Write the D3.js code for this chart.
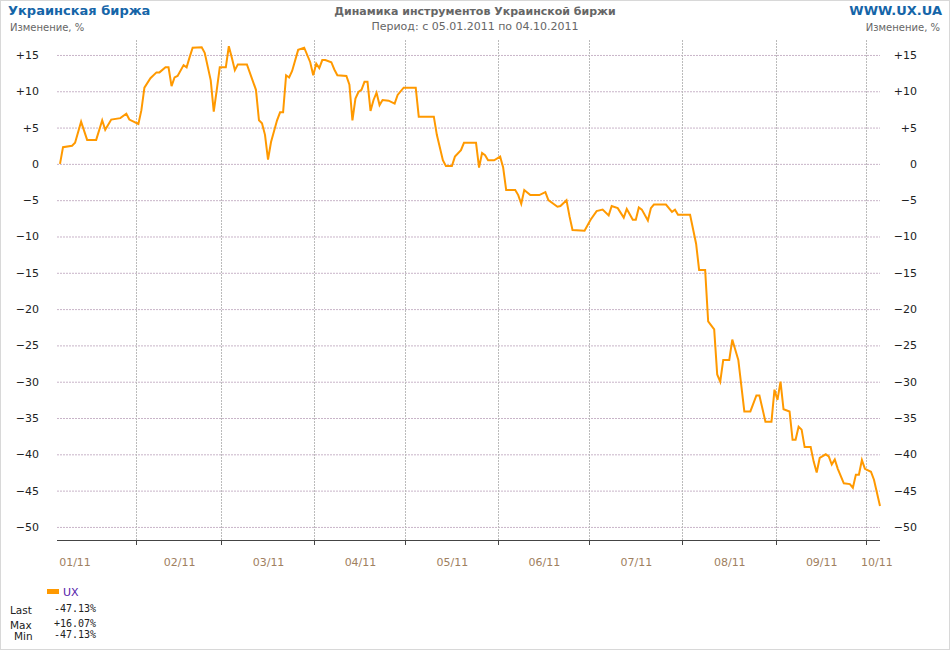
<!DOCTYPE html>
<html><head><meta charset="utf-8">
<script src="https://cdn.jsdelivr.net/npm/d3@7"></script>
<style>body{margin:0;background:#fff}svg{display:block}text{font-family:"DejaVu Sans",Verdana,sans-serif}text.mono{font-family:"DejaVu Sans Mono",monospace}</style>
</head><body><svg id="c" width="950" height="650"></svg>
<script>
// day of year 2011
const days=[5,6,9,10,12,14,17,19,20,22,25,27,28,31,32,33,35,37,38,40,41,42,43,44,46,47,48,49,52,53,55,56,57,58,60,61,62,63,64,67,70,71,72,73,74,75,77,78,79,80,81,82,84,86,88,89,90,91,92,93,95,96,97,100,101,102,103,104,105,106,107,108,109,110,111,112,114,116,117,119,123,124,129,130,132,133,135,136,138,139,143,144,145,146,147,149,151,152,153,156,157,158,159,161,164,166,167,170,171,173,174,175,179,181,183,185,187,188,190,192,193,195,196,197,198,200,201,202,206,208,209,210,214,216,217,219,220,222,223,224,225,227,228,229,230,232,234,236,237,239,241,242,243,244,245,247,248,249,250,251,252,254,255,256,257,259,260,261,262,263,265,267,268,269,270,271,272,274,275,277];
const values=[0,2.3,2.5,2.9,5.8,3.3,3.3,6.0,4.7,6.1,6.3,6.9,6.1,5.5,7.4,10.5,11.8,12.6,12.6,13.3,13.3,10.7,11.9,12.1,13.6,13.3,14.7,16.0,16.07,15.3,11.5,7.2,10.2,13.3,13.3,16.2,14.6,12.9,13.7,13.7,10.2,6.0,5.6,4.0,0.6,3.0,6.0,7.1,7.1,12.2,11.9,12.8,15.7,16.0,14.0,12.2,13.8,13.2,14.3,14.3,14.0,13.0,12.2,12.1,10.9,6.0,9.0,9.9,10.2,11.3,11.3,7.3,8.8,9.8,8.1,8.8,8.7,8.3,9.5,10.5,10.5,6.5,6.5,4.0,0.5,-0.3,-0.3,1.0,1.9,2.9,2.9,-0.5,1.5,1.2,0.5,0.5,1.0,-0.5,-3.6,-3.6,-4.3,-5.5,-3.6,-4.3,-4.3,-3.9,-5.0,-5.9,-5.8,-5.0,-7.2,-9.1,-9.2,-7.7,-6.5,-6.3,-7.1,-5.8,-6.1,-7.4,-6.2,-7.7,-7.7,-6.0,-6.3,-7.8,-6.1,-5.6,-5.6,-6.6,-6.3,-7.0,-7.0,-11.0,-14.6,-14.6,-21.7,-22.8,-29.0,-30.0,-27.0,-27.0,-24.2,-25.6,-27.0,-34.1,-34.1,-31.9,-31.9,-35.5,-35.5,-31.1,-32.5,-30.0,-33.8,-34.1,-38.0,-38.0,-36.2,-36.6,-39.0,-39.0,-41.0,-42.5,-40.5,-40.0,-40.3,-41.4,-40.7,-42.0,-44.0,-44.1,-44.6,-42.8,-42.8,-40.8,-42.0,-42.4,-43.5,-47.13];
const yTicks=[15,10,5,0,-5,-10,-15,-20,-25,-30,-35,-40,-45,-50];
const monthLabels=["01/11","02/11","03/11","04/11","05/11","06/11","07/11","08/11","09/11","10/11"];
const stats=[["Last","-47.13%"],["Max","+16.07%"],["Min","-47.13%"]];

const svg=d3.select("#c");
svg.append("rect").attr("x",0.5).attr("y",0.5).attr("width",949).attr("height",649).attr("fill","#fff").attr("stroke","#d8d8d8");
const dt=d=>new Date(2011,0,d);
const x=d3.scaleTime().domain([dt(5),dt(277)]).range([60,880]);
const y=d3.scaleLinear().domain([-51.8,17.06]).range([540,40]);
const L=57,R=880,T=40,B=540;
const grid="#c8b4c8";
yTicks.forEach(t=>{
  svg.append("line").attr("x1",L).attr("x2",R).attr("y1",y(t)+.5).attr("y2",y(t)+.5).attr("stroke",grid).attr("stroke-dasharray","2,1");
  const lab=t>0?"+"+t:String(t).replace("-","\u2212");
  svg.append("text").attr("x",39).attr("y",y(t)+4).attr("text-anchor","end").attr("font-size",11).attr("fill","#222").text(lab);
  svg.append("text").attr("x",917).attr("y",y(t)+4).attr("text-anchor","end").attr("font-size",11).attr("fill","#222").text(lab);
});
const months=d3.range(1,10).map(m=>new Date(2011,m,1));
months.forEach(m=>{
  const px=Math.round(x(m))-4.5;
  svg.append("line").attr("x1",px).attr("x2",px).attr("y1",T).attr("y2",B).attr("stroke","#bbb").attr("stroke-dasharray","2,1");
  svg.append("line").attr("x1",px).attr("x2",px).attr("y1",B).attr("y2",B+5).attr("stroke","#444");
});
svg.append("line").attr("x1",L).attr("x2",R).attr("y1",B+.5).attr("y2",B+.5).attr("stroke","#444");
const bounds=[dt(5),...months,dt(277)];
monthLabels.forEach((t,i)=>{
  let cx=(x(bounds[i])+x(bounds[i+1]))/2-4;
  if(i===0) cx=x(bounds[0])+15; if(i===9) cx=x(bounds[9])+6;
  svg.append("text").attr("x",cx).attr("y",566).attr("text-anchor","middle").attr("font-size",11).attr("fill","#a08060").text(t);
});
const line=d3.line().x((d,i)=>x(dt(days[i]))).y(d=>y(d));
svg.append("path").datum(values).attr("d",line).attr("fill","none").attr("stroke","#ff9900").attr("stroke-width",2);

svg.append("text").attr("x",8).attr("y",15).attr("font-size",13).attr("font-weight","bold").attr("fill","#1565a8").text("Украинская биржа");
svg.append("text").attr("x",942).attr("y",15).attr("text-anchor","end").attr("font-size",13).attr("font-weight","bold").attr("fill","#1565a8").text("WWW.UX.UA");
svg.append("text").attr("x",10).attr("y",31).attr("font-size",10).attr("fill","#666").text("Изменение, %");
svg.append("text").attr("x",940).attr("y",31).attr("text-anchor","end").attr("font-size",10).attr("fill","#666").text("Изменение, %");
svg.append("text").attr("x",475).attr("y",15).attr("text-anchor","middle").attr("font-size",11).attr("font-weight","bold").attr("fill","#666").text("Динамика инструментов Украинской биржи");
svg.append("text").attr("x",475).attr("y",30).attr("text-anchor","middle").attr("font-size",11).attr("fill","#666").text("Период: с 05.01.2011 по 04.10.2011");

svg.append("rect").attr("x",47).attr("y",589).attr("width",12).attr("height",5).attr("fill","#ff9900");
svg.append("text").attr("x",63).attr("y",596).attr("font-size",11).attr("fill","#5522aa").text("UX");
const sy=[614,629,640];
stats.forEach((s,i)=>{
  svg.append("text").attr("x",i===2?14:10).attr("y",sy[i]).attr("font-size",10.5).attr("fill","#222").text(s[0]);
  svg.append("text").attr("class","mono").attr("x",54).attr("y",sy[i]-2).attr("font-size",10).attr("fill","#222").text(s[1]);
});
</script></body></html>
